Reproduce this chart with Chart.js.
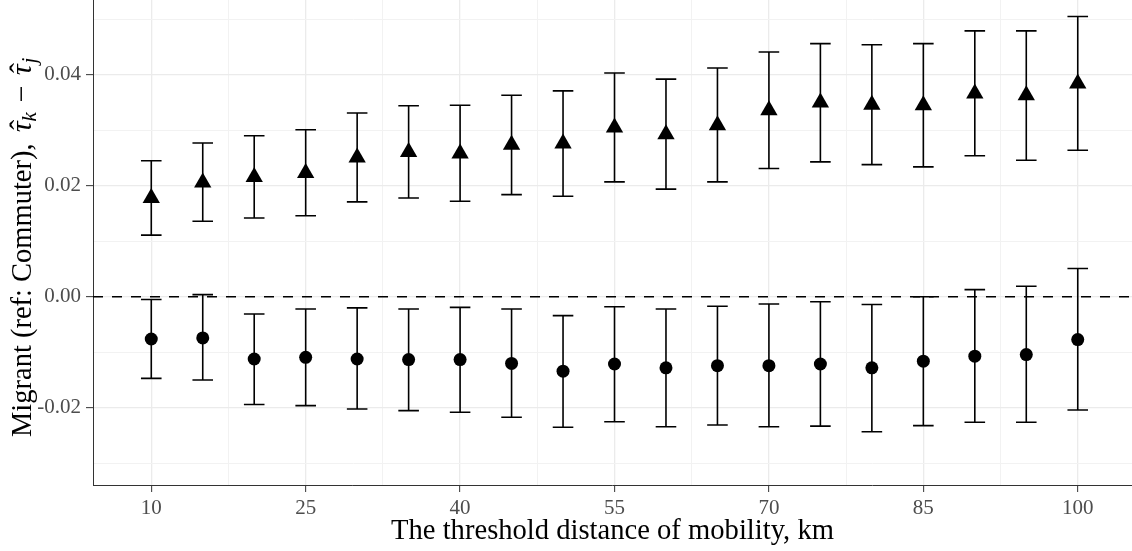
<!DOCTYPE html>
<html>
<head>
<meta charset="utf-8">
<script src="https://cdn.jsdelivr.net/npm/chart.js@4.4.0/dist/chart.umd.min.js"></script>
<style>
  html, body { margin: 0; padding: 0; background: #ffffff; }
  #wrap { width: 1132px; height: 551px; position: relative; }
</style>
</head>
<body>
<div id="wrap"><canvas id="chart" width="1132" height="551"></canvas></div>
<script>
// ---- Data ----
const distances = [10, 15, 20, 25, 30, 35, 40, 45, 50, 55, 60, 65, 70, 75, 80, 85, 90, 95, 100];

// Series drawn with triangles
const triEstimate = [0.0178, 0.0206, 0.0216, 0.0223, 0.0251, 0.0261, 0.0258, 0.0274, 0.0276, 0.0305,
                     0.0293, 0.0309, 0.0336, 0.0350, 0.0346, 0.0345, 0.0366, 0.0363, 0.0384];
const triLower    = [0.0111, 0.0136, 0.0142, 0.0146, 0.0171, 0.0178, 0.0172, 0.0184, 0.0181, 0.0207,
                     0.0194, 0.0207, 0.0231, 0.0243, 0.0238, 0.0234, 0.0254, 0.0246, 0.0264];
const triUpper    = [0.0245, 0.0277, 0.0290, 0.0301, 0.0331, 0.0344, 0.0345, 0.0363, 0.0371, 0.0403,
                     0.0392, 0.0412, 0.0441, 0.0456, 0.0454, 0.0456, 0.0479, 0.0479, 0.0505];

// Series drawn with circles
const circEstimate = [-0.0076, -0.0074, -0.0112, -0.0109, -0.0112, -0.0113, -0.0113, -0.0120, -0.0134, -0.0121,
                      -0.0128, -0.0124, -0.0124, -0.0121, -0.0128, -0.0116, -0.0107, -0.0104, -0.0077];
const circLower    = [-0.0147, -0.0150, -0.0194, -0.0196, -0.0202, -0.0205, -0.0208, -0.0217, -0.0235, -0.0225,
                      -0.0234, -0.0231, -0.0234, -0.0233, -0.0243, -0.0232, -0.0226, -0.0226, -0.0204];
const circUpper    = [-0.0005, 0.0004, -0.0031, -0.0022, -0.0020, -0.0022, -0.0019, -0.0022, -0.0034, -0.0018,
                      -0.0022, -0.0017, -0.0013, -0.0009, -0.0014, 0.0000, 0.0013, 0.0019, 0.0051];

// Tick labels / gridline positions
const xMajorTicks = [10, 25, 40, 55, 70, 85, 100];
const xMinorTicks = [17.5, 32.5, 47.5, 62.5, 77.5, 92.5];
const yMajorTicks = [-0.02, 0.00, 0.02, 0.04];
const yMinorTicks = [-0.03, -0.01, 0.01, 0.03, 0.05];
const referenceLine = 0;

const xTitle = 'The threshold distance of mobility, km';
const yTitleText = 'Migrant (ref: Commuter), ';
const yTitleMath = ['\u03C4', 'k', '\u2212', '\u03C4', 'j'];
const hatGlyph = '\u02C6';

// ---- Build chart ----
const toPoints = (est) => distances.map((d, i) => ({ x: d, y: est[i] }));

const errorBarPlugin = {
  id: 'errorBars',
  beforeDatasetsDraw(chart) {
    const { ctx, chartArea, scales } = chart;
    const xs = scales.x, ys = scales.y;
    ctx.save();
    ctx.beginPath();
    ctx.rect(chartArea.left, chartArea.top, chartArea.right - chartArea.left, chartArea.bottom - chartArea.top);
    ctx.clip();
    // dashed reference line
    const y0 = ys.getPixelForValue(referenceLine);
    ctx.strokeStyle = '#000000';
    ctx.lineWidth = 1.5;
    ctx.setLineDash([10, 9]);
    ctx.beginPath();
    ctx.moveTo(chartArea.left, y0);
    ctx.lineTo(chartArea.right, y0);
    ctx.stroke();
    ctx.setLineDash([]);
    // error bars
    ctx.lineWidth = 1.6;
    chart.data.datasets.forEach((ds) => {
      const lows = ds.errLower, highs = ds.errUpper;
      distances.forEach((d, i) => {
        const xc = xs.getPixelForValue(d);
        const xl = xs.getPixelForValue(d - 1);
        const xr = xs.getPixelForValue(d + 1);
        const yl = ys.getPixelForValue(lows[i]);
        const yh = ys.getPixelForValue(highs[i]);
        ctx.beginPath();
        ctx.moveTo(xc, yl); ctx.lineTo(xc, yh);
        ctx.moveTo(xl, yl); ctx.lineTo(xr, yl);
        ctx.moveTo(xl, yh); ctx.lineTo(xr, yh);
        ctx.stroke();
      });
    });
    ctx.restore();
  }
};

// y-axis title with math-style pieces (italic tau-hat with subscripts)
const yTitlePlugin = {
  id: 'yTitleMath',
  afterDraw(chart) {
    const { ctx, chartArea } = chart;
    const fam = '"Liberation Serif", serif';
    const big = 28.5, math = 30, small = 21;
    const pieces = [
      { t: yTitleText, font: `${big}px ${fam}`, dy: 0, after: 4 },
      { t: yTitleMath[0], font: `italic ${math}px ${fam}`, dy: 0, after: 0, hat: true },
      { t: yTitleMath[1], font: `italic ${small}px ${fam}`, dy: 5, after: 10 },
      { t: yTitleMath[2], font: `${math}px ${fam}`, dy: 0, after: 10 },
      { t: yTitleMath[3], font: `italic ${math}px ${fam}`, dy: 0, after: 1, hat: true },
      { t: yTitleMath[4], font: `italic ${small}px ${fam}`, dy: 5, after: 0 }
    ];
    ctx.save();
    pieces.forEach(p => { ctx.font = p.font; p.w = ctx.measureText(p.t).width; });
    const startY = chartArea.bottom - 48;   // where the title begins (bottom end)
    const baselineX = 31;
    ctx.translate(baselineX, startY);
    ctx.rotate(-Math.PI / 2);
    ctx.fillStyle = '#000000';
    ctx.textBaseline = 'alphabetic';
    ctx.textAlign = 'left';
    let x = 0;
    pieces.forEach(p => {
      ctx.font = p.font;
      ctx.textAlign = 'left';
      ctx.fillText(p.t, x, p.dy);
      if (p.hat) {
        ctx.textAlign = 'center';
        ctx.font = `${math}px ${fam}`;
        ctx.fillText(hatGlyph, x + p.w / 2 + 2, p.dy - 1);
      }
      x += p.w + p.after;
    });
    ctx.restore();
  }
};

const isIn = (arr, v) => arr.some(t => Math.abs(t - v) < 1e-9);

new Chart(document.getElementById('chart'), {
  type: 'scatter',
  data: {
    datasets: [
      {
        label: 'Triangles',
        data: toPoints(triEstimate),
        errLower: triLower,
        errUpper: triUpper,
        pointStyle: 'triangle',
        pointRadius: 10,
        pointBackgroundColor: '#000000',
        pointBorderWidth: 0,
        pointHoverRadius: 10
      },
      {
        label: 'Circles',
        data: toPoints(circEstimate),
        errLower: circLower,
        errUpper: circUpper,
        pointStyle: 'circle',
        pointRadius: 6.5,
        pointBackgroundColor: '#000000',
        pointBorderWidth: 0,
        pointHoverRadius: 6.5
      }
    ]
  },
  options: {
    responsive: false,
    devicePixelRatio: 1,
    animation: false,
    layout: { padding: 0, autoPadding: false },
    plugins: { legend: { display: false }, tooltip: { enabled: false } },
    scales: {
      x: {
        type: 'linear',
        min: 4.34,
        max: 105.27,
        afterBuildTicks: (scale) => {
          scale.ticks = [...xMajorTicks, ...xMinorTicks].sort((a, b) => a - b).map(v => ({ value: v }));
        },
        afterFit: (scale) => { scale.height = 66; scale.paddingLeft = 0; scale.paddingRight = 0; },
        ticks: {
          autoSkip: false,
          maxRotation: 0,
          padding: 4,
          color: '#4D4D4D',
          font: { family: '"Liberation Serif", serif', size: 21 },
          callback: (v) => isIn(xMajorTicks, v) ? String(v) : ''
        },
        grid: {
          color: (c) => isIn(xMajorTicks, c.tick.value) ? '#EBEBEB' : '#F2F2F2',
          lineWidth: (c) => isIn(xMajorTicks, c.tick.value) ? 1.3 : 1,
          tickColor: (c) => isIn(xMajorTicks, c.tick.value) ? '#333333' : 'rgba(0,0,0,0)',
          tickLength: 7,
          tickWidth: 1
        },
        border: { display: true, color: '#333333', width: 1 },
        title: {
          display: true,
          text: xTitle,
          color: '#000000',
          font: { family: '"Liberation Serif", serif', size: 28.6, lineHeight: 1.2 },
          padding: { top: 0, bottom: 2 }
        }
      },
      y: {
        type: 'linear',
        min: -0.0339,
        max: 0.05346,
        afterBuildTicks: (scale) => {
          scale.ticks = [...yMajorTicks, ...yMinorTicks].sort((a, b) => a - b).map(v => ({ value: v }));
        },
        afterFit: (scale) => { scale.width = 93; scale.paddingTop = 0; scale.paddingBottom = 0; },
        ticks: {
          autoSkip: false,
          padding: 5,
          color: '#4D4D4D',
          font: { family: '"Liberation Serif", serif', size: 21 },
          callback: (v) => isIn(yMajorTicks, v) ? v.toFixed(2) : ''
        },
        grid: {
          color: (c) => isIn(yMajorTicks, c.tick.value) ? '#EBEBEB' : '#F2F2F2',
          lineWidth: (c) => isIn(yMajorTicks, c.tick.value) ? 1.3 : 1,
          tickColor: (c) => isIn(yMajorTicks, c.tick.value) ? '#333333' : 'rgba(0,0,0,0)',
          tickLength: 7,
          tickWidth: 1
        },
        border: { display: true, color: '#333333', width: 1 },
        title: { display: false }
      }
    }
  },
  plugins: [errorBarPlugin, yTitlePlugin]
});
</script>
</body>
</html>
